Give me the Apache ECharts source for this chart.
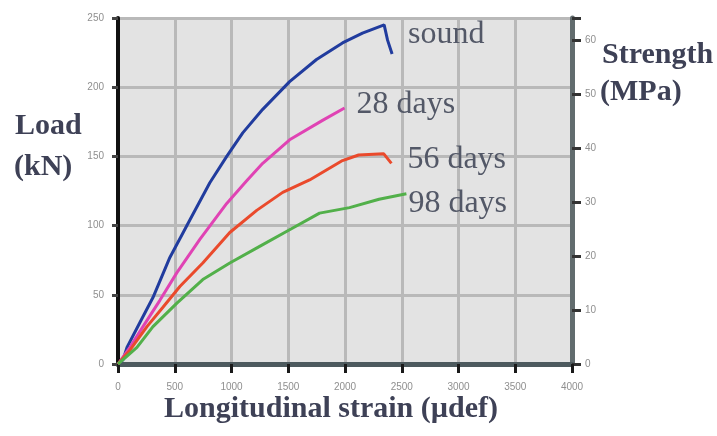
<!DOCTYPE html>
<html>
<head>
<meta charset="utf-8">
<title>Load vs longitudinal strain</title>
<script src="https://cdn.jsdelivr.net/npm/echarts@6/dist/echarts.min.js"></script>
<style>
  html, body { margin: 0; padding: 0; background: #ffffff; }
  #chart { width: 717px; height: 436px; }
</style>
</head>
<body>
<div id="chart"></div>
<script>
// Axis ticks
const strainTicks = [0, 500, 1000, 1500, 2000, 2500, 3000, 3500, 4000];
const loadTicks = [0, 50, 100, 150, 200, 250];
const strengthTicks = [0, 10, 20, 30, 40, 50, 60];
const strengthTop = 64.1; // MPa equivalent of 250 kN

// Curve names
const seriesNames = ['sound', '28 days', '56 days', '98 days'];

// Sound concrete
const soundStrain = [0, 44, 79, 193, 308, 457, 633, 809, 958, 1099, 1275, 1512, 1749, 1978, 2154, 2345, 2375, 2415];
const soundLoad   = [0, 3, 12, 30, 48, 77, 104, 131, 150, 167, 184, 204, 220, 232, 239, 245, 234, 224];

// 28 days
const d28Strain = [0, 105, 220, 369, 519, 721, 958, 1130, 1275, 1512, 1802, 1996];
const d28Load   = [0, 12, 27, 46, 66, 90, 116, 132, 145, 162, 176, 185];

// 56 days
const d56Strain = [0, 105, 255, 396, 545, 747, 985, 1222, 1451, 1688, 1978, 2120, 2340, 2409];
const d56Load   = [0, 10, 27, 41, 56, 73, 95, 111, 124, 133, 147, 151, 152, 145];

// 98 days
const d98Strain = [0, 167, 308, 519, 747, 985, 1248, 1512, 1776, 2040, 2300, 2541];
const d98Load   = [0, 12, 27, 44, 61, 73, 85, 97, 109, 113, 119, 123];

const colors = ['#213c9e', '#e043b4', '#ea4a2c', '#52b04a'];
const labelOffsets = [[8, -19], [4, -3], [8, -4], [-6, 10]];

const pairs = (xs, ys) => xs.map((x, i) => [x, ys[i]]);
const curves = [
  pairs(soundStrain, soundLoad),
  pairs(d28Strain, d28Load),
  pairs(d56Strain, d56Load),
  pairs(d98Strain, d98Load)
];

const serif = "'Liberation Serif', 'DejaVu Serif', serif";
const sans = "'Liberation Sans', 'DejaVu Sans', sans-serif";
const tickLabelStyle = { fontFamily: sans, fontSize: 10, color: '#8f8f8f' };
// Grid lines; the zero lines are left to the axis lines themselves
const gridLine = { show: true, showMinLine: false, lineStyle: { color: '#b9b9b9', width: 3 } };

const chart = echarts.init(document.getElementById('chart'), null, { renderer: 'canvas' });

chart.setOption({
  animation: false,
  backgroundColor: '#ffffff',
  grid: {
    left: 118, right: 145, top: 18, bottom: 72,
    show: true, backgroundColor: '#e3e3e3', borderWidth: 0
  },
  xAxis: {
    type: 'value',
    min: strainTicks[0],
    max: strainTicks[strainTicks.length - 1],
    interval: 500,
    axisLine: { show: true, onZero: false, lineStyle: { color: '#4d5a5e', width: 5 } },
    axisTick: { show: true, length: 9, lineStyle: { color: '#1a1a1a', width: 3 } },
    axisLabel: { ...tickLabelStyle, margin: 18, formatter: v => String(v) },
    splitLine: gridLine
  },
  yAxis: [
    {
      type: 'value',
      min: loadTicks[0],
      max: loadTicks[loadTicks.length - 1],
      interval: 50,
      axisLine: { show: true, onZero: false, lineStyle: { color: '#111111', width: 4 } },
      axisTick: { show: true, length: 6, lineStyle: { color: '#444444', width: 3 } },
      axisLabel: { ...tickLabelStyle, margin: 14, formatter: v => String(v) },
      splitLine: gridLine
    },
    {
      type: 'value',
      position: 'right',
      min: 0,
      max: strengthTop,
      interval: 10,
      axisLine: { show: true, onZero: false, lineStyle: { color: '#626c6e', width: 5 } },
      axisTick: { show: true, length: 9, lineStyle: { color: '#333333', width: 3 } },
      axisLabel: {
        ...tickLabelStyle, margin: 13,
        formatter: v => (strengthTicks.includes(v) ? String(v) : '')
      },
      splitLine: { show: false }
    }
  ],
  series: curves.map((data, i) => ({
    name: seriesNames[i],
    type: 'line',
    yAxisIndex: 0,
    data: data,
    showSymbol: false,
    smooth: false,
    lineStyle: { color: colors[i], width: 3 },
    endLabel: {
      show: true,
      formatter: seriesNames[i],
      offset: labelOffsets[i],
      fontFamily: serif,
      fontSize: 32,
      color: '#535867'
    },
    z: 3
  })),
  graphic: [
    { type: 'text', left: 15, top: 111, style: { text: 'Load', font: "bold 30px " + serif, fill: '#3e4156' } },
    { type: 'text', left: 14, top: 152, style: { text: '(kN)', font: "bold 30px " + serif, fill: '#3e4156' } },
    { type: 'text', left: 602, top: 40, style: { text: 'Strength', font: "bold 30px " + serif, fill: '#3e4156' } },
    { type: 'text', left: 600, top: 77, style: { text: '(MPa)', font: "bold 30px " + serif, fill: '#3e4156' } },
    { type: 'text', left: 164, top: 394, style: { text: 'Longitudinal strain (µdef)', font: "bold 30px " + serif, fill: '#3e4156' } }
  ]
});
</script>
</body>
</html>
